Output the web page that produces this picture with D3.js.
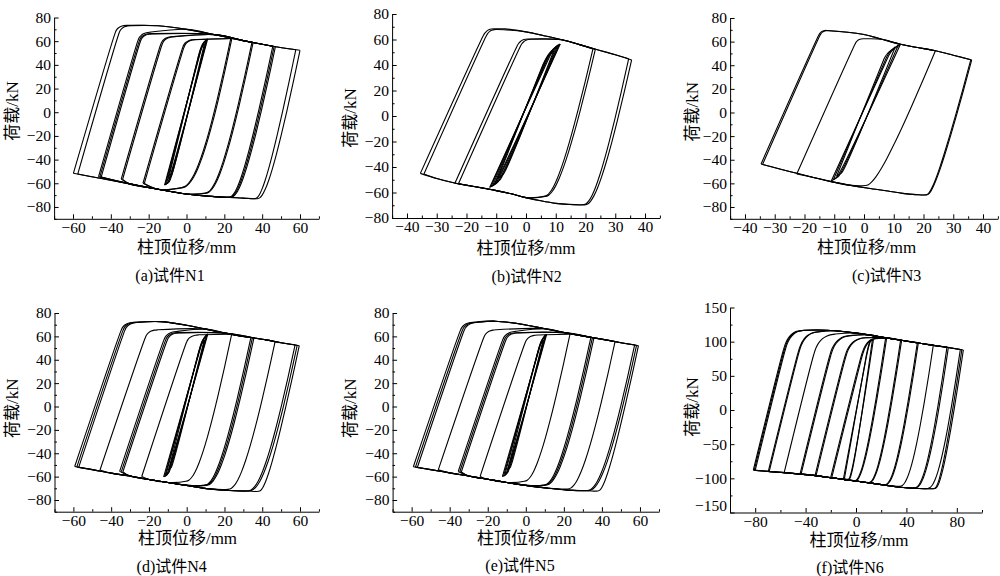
<!DOCTYPE html>
<html>
<head>
<meta charset="utf-8">
<script src="https://cdn.jsdelivr.net/npm/d3@7"></script>
<style>
  body { margin: 0; background: #fff; }
  svg { display: block; }
</style>
</head>
<body>
<svg id="chart" width="1000" height="576"></svg>
<script>
// ---- data (displacement mm, load kN) ----
// each loop row: [xNeg, yNeg, xKneeTop, yKneeTop, xPos, yPos, xKneeBot, yKneeBot]
// the bottom knee is where the unloading branch would hit the lower plateau
const n1EnvTop = [[-36,73.5],[-28,74],[-15,73],[0,70],[15,65.5],[30,60.5],[45,56],[60,52.3]];
const n1EnvBot = [[-59.8,-51.6],[-45,-56],[-30,-60.5],[-15,-65],[0,-69],[15,-71.3],[30,-72.5],[43,-73]];
const n1Loops = [
  [-59.8,-51.6,-36.5,73.5,60,52.3,43.6,-73.5],
  [-57.5,-52.2,-34.5,73.2,57.8,52.8,41.4,-73.3],
  [-46.5,-54.5,-24.5,67,47,55.3,30.2,-72.5],
  [-45.8,-54.6,-23.8,66.5,46.3,55.5,29.5,-72.3],
  [-45.1,-54.8,-23.2,66.2,45.6,55.7,28.8,-72],
  [-34.5,-56.5,-12.5,63.5,35.2,58.8,18.5,-68],
  [-33.8,-56.8,-11.8,63.3,34.6,59,17.9,-67.8],
  [-23,-60,-0.8,61.2,24,62.3,7.6,-63],
  [-22.3,-60.2,-0.2,61,23.4,62.3,7,-62.8],
  [-11.6,-61.5,8.5,57.5,11.2,62,-8.8,-58],
  [-11.2,-61.2,8.2,57,10.8,61.8,-8.3,-57.5],
  [-10.6,-60.5,7.8,56.5,10.4,61,-7.8,-57],
  [-9.5,-56,7,52,9.5,58,-7,-52.5]
];

const n2EnvTop = [[-13,68.5],[-7,68.3],[0,66],[6,63],[12,59.8],[18,56],[24,52],[30,48],[35.5,44]];
const n2EnvBot = [[-35.5,-45],[-30,-49],[-24,-52.5],[-17,-55.5],[-10,-58.5],[-5,-61],[0,-64],[5,-66.5],[10,-68.5],[14,-69.3],[21,-70]];
const n2Loops = [
  [-35.5,-45,-13.3,68.5,35.5,44,24.5,-70],
  [-34.3,-45.5,-12.3,68.3,34.5,44.8,23.7,-69.6],
  [-23.9,-52.8,-1.9,60.5,23.3,52.2,11.7,-62.5],
  [-22.7,-53.2,-0.8,60.3,22.5,52.6,11,-62.3],
  [-12.2,-56,8.8,51,11.5,56.5,-9.5,-51.5],
  [-11.8,-55.5,8.3,50.5,11.2,56.2,-9,-51],
  [-11.3,-55,7.8,49.5,10.8,55.8,-8.3,-50],
  [-10.5,-53,7.2,48,10.3,55,-7.5,-48],
  [-9.5,-49,6.5,45,9.3,51,-6.5,-44]
];

const n3EnvTop = [[-14,70],[-9,70],[0,66],[6,62],[12.7,57.5],[18,55],[24,52.3],[30,48.5],[36.2,44.5]];
const n3EnvBot = [[-34.6,-43.6],[-28,-48],[-22.6,-51.5],[-17,-55],[-11,-58.5],[-5,-61.5],[1.5,-64.2],[8,-66.5],[13,-68.5],[17.5,-69.5]];
const n3Loops = [
  [-34.6,-43.6,-14.4,70,36.2,44.5,24,-70],
  [-34.1,-44,-14,69.8,35.9,44.7,23.7,-69.8],
  [-22.6,-52,-2.2,62.5,24,52.3,5,-62],
  [-11,-58,9,52,12.2,57.5,-8,-53],
  [-10.3,-57,8.3,51,11.5,57,-7.3,-52],
  [-9.2,-54,7.3,49,10.5,55.5,-6.3,-49]
];

const n4EnvTop = [[-33,71.5],[-25,72.3],[-14,72.6],[0,69.5],[10,66.2],[21,62.6],[32,59.5],[42,57],[50,54.5],[59.6,52]];
const n4EnvBot = [[-59.3,-51.3],[-50,-54],[-40,-57],[-30,-59.5],[-20,-62.5],[-10,-65],[0,-67.5],[12,-70.5],[22,-71.8],[32,-72.3],[42,-72.5]];
const n4Loops = [
  [-59.3,-51.3,-33.3,71.8,59.6,52,43.1,-72.8],
  [-58.2,-51.8,-32.3,71.8,58.5,52.4,42,-72.6],
  [-57.2,-52.1,-31.4,71.6,57.4,52.8,40.9,-72.4],
  [-45.9,-54.3,-20.5,65.5,46.8,55.5,30,-71.2],
  [-35.5,-55.5,-10.7,63.5,35.6,58.8,18.9,-67.5],
  [-34.6,-55.7,-9.8,63.3,34.8,59,18.1,-67.3],
  [-33.8,-55.9,-9,63,34,59.2,17.3,-67.1],
  [-23.8,-59.9,1.2,61.2,23.8,61.8,7.4,-63.2],
  [-12.2,-60.2,8.5,57,11.2,62.2,-9.5,-57],
  [-11.6,-59.8,8.2,56.5,10.8,61.8,-9,-56.5],
  [-11,-58.5,7.8,55.5,10.3,61,-8.4,-55.5],
  [-9.5,-54,7,51,9.3,57,-7.2,-51]
];

const n5EnvTop = [[-33,71.2],[-25,72.5],[-16,73],[0,69.8],[10,66.5],[21,63],[32,59.8],[42,57],[50,54.6],[59.2,52]];
const n5EnvBot = [[-59.1,-51.5],[-50,-54],[-40,-56.8],[-30,-59.5],[-20,-62.2],[-10,-65],[0,-67.5],[12,-70],[22,-71.5],[32,-72],[42,-72.3]];
const n5Loops = [
  [-59.1,-51.5,-33,71.6,59.2,52,42.7,-72.6],
  [-58,-51.9,-32,71.5,58.2,52.4,41.7,-72.4],
  [-57,-52.2,-31.1,71.3,57.2,52.8,40.7,-72.2],
  [-46,-54.2,-20.7,65.5,46.9,55.5,30.1,-71],
  [-35.5,-55.6,-10.8,63.5,35.8,58.7,19.1,-67.2],
  [-34.7,-55.8,-10,63.2,35,58.9,18.3,-67],
  [-33.9,-56,-9.2,63,34.2,59.1,17.5,-66.8],
  [-24,-59.8,1,61,23.2,61.8,6.8,-63.2],
  [-12.3,-60,8.4,57,11,62,-9.5,-57],
  [-11.7,-59.6,8.1,56.5,10.6,61.6,-9,-56.5],
  [-11,-58.3,7.7,55.3,10.1,60.8,-8.4,-55.3],
  [-9.5,-54,7,51,9.1,56.8,-7.2,-51]
];

const n6EnvTop = [[-54,116],[-45,117],[-30,117],[-16.7,116],[0,112.5],[10,110],[24,105.5],[36,102],[48,98.5],[60,95],[73,91.5],[85.2,87.8]];
const n6EnvBot = [[-81.5,-88],[-70,-89.8],[-57,-91.7],[-44,-93.8],[-32,-96],[-20,-99],[-10,-101.5],[0,-104],[12,-107],[23,-110],[35,-113],[45,-114.5],[55,-115],[68.5,-115]];
const n6Loops = [
  [-81.5,-88,-53.8,116,85.2,87.8,68.8,-115],
  [-80.8,-88.2,-53.1,115.8,84,88.2,67.7,-115],
  [-80,-88.4,-52.4,115.6,82.8,88.6,66.6,-115],
  [-69.6,-90,-42,113,73.3,91.6,57,-114.5],
  [-68.9,-90.2,-41.4,112.8,72.2,92,56,-114.3],
  [-57,-91.7,-29.6,110,61.4,95.3,44.5,-113],
  [-44.4,-93.8,-17,108,49.5,98.5,32.5,-111],
  [-43.6,-94,-16.2,107.8,48.7,98.8,31.7,-110.8],
  [-32.5,-96,-5,106,36.2,102,19,-108],
  [-31.7,-96.2,-4.3,105.8,35.4,102.2,18.3,-107.8],
  [-20.1,-99,7.5,104,24.3,105,7,-105],
  [-19.3,-99.2,8.2,103.8,23.5,105.2,6.3,-104.8],
  [-10,-101,10.5,100,13.8,103,-3,-102.5],
  [-9.2,-100.5,10,99,13,102.5,-2.5,-102]
];

// tick labels
const xLab60 = [-60,-40,-20,0,20,40,60];
const xLab40 = [-40,-30,-20,-10,0,10,20,30,40];
const xLab80 = [-80,-40,0,40,80];
const yLab80 = [-80,-60,-40,-20,0,20,40,60,80];
const yLab150 = [-150,-100,-50,0,50,100,150];

const xTitle = '柱顶位移/mm';
const yTitle = '荷载/kN';
const captions = ['(a)试件N1','(b)试件N2','(c)试件N3','(d)试件N4','(e)试件N5','(f)试件N6'];

// ---- layout ----
const FONT = '"Liberation Serif","Times New Roman","Noto Sans CJK SC",serif';
// corner rounding in px: [bottom knee along plateau, top knee along line, top knee along plateau]
const arms = {a:[25,8,10], b:[30,8,8], c:[20,6,6], f:[34,20,22]};

const panels = [
  {top:n1EnvTop, bot:n1EnvBot, loops:n1Loops, xd:[-70,70], yd:[-90,80], xr:[54.1,318.9], yr:[218.8,17.5],
   xLab:xLab60, xStep:10, yLab:yLab80, yStep:10, arms:arms.a, gap:10, gapEnd:3, lift:0,
   yt:[12,111], xt:[186.7,246.7], cap:[170,275]},
  {top:n2EnvTop, bot:n2EnvBot, loops:n2Loops, xd:[-45,45], yd:[-80,80], xr:[392.1,659.9], yr:[218,14],
   xLab:xLab40, xStep:5, yLab:yLab80, yStep:10, arms:arms.b, gap:6, gapEnd:2, lift:0,
   yt:[350,118], xt:[526,248.3], cap:[526.7,276.7]},
  {top:n3EnvTop, bot:n3EnvBot, loops:n3Loops, xd:[-45,45], yd:[-90,80], xr:[730.1,997.9], yr:[218.8,18],
   xLab:xLab40, xStep:5, yLab:yLab80, yStep:10, arms:arms.c, gap:6, gapEnd:2, lift:0,
   yt:[692.5,111.7], xt:[866.7,246.7], cap:[886.7,275]},
  {top:n4EnvTop, bot:n4EnvBot, loops:n4Loops, xd:[-70,70], yd:[-90,80], xr:[54.5,318.9], yr:[511.7,313],
   xLab:xLab60, xStep:10, yLab:yLab80, yStep:10, arms:arms.a, gap:10, gapEnd:3, lift:0,
   yt:[11.7,408.3], xt:[187.5,538.3], cap:[171.7,566]},
  {top:n5EnvTop, bot:n5EnvBot, loops:n5Loops, xd:[-70,70], yd:[-90,80], xr:[392.6,659], yr:[511.7,313],
   xLab:xLab60, xStep:10, yLab:yLab80, yStep:10, arms:arms.a, gap:10, gapEnd:3, lift:0,
   yt:[350,408.3], xt:[526.7,538.3], cap:[520,565]},
  {top:n6EnvTop, bot:n6EnvBot, loops:n6Loops, xd:[-100,100], yd:[-150,150], xr:[730,982], yr:[512.5,307.5],
   xLab:xLab80, xStep:20, yLab:yLab150, yStep:25, arms:arms.f, gap:12, gapEnd:4, lift:7,
   yt:[691.7,407], xt:[859,540], cap:[850,567.3]}
];

const svg = d3.select('#chart');
const line = d3.line().curve(d3.curveCatmullRom.alpha(0.5));
const K = 0.09;            // how steeply a loop may climb back onto the envelope
const K1 = 0.8, K2 = 0.65; // unloading branch bends late, like the test curves

function toward(c, t, r) {
  const dx = t[0] - c[0], dy = t[1] - c[1];
  const d = Math.hypot(dx, dy) || 1;
  const rr = Math.min(r, 0.45 * d);
  return [c[0] + dx * rr / d, c[1] + dy * rr / d];
}
const lerp = (a, b, t) => [a[0] + (b[0] - a[0]) * t, a[1] + (b[1] - a[1]) * t];

// envelope points a branch runs along between its knee and the far peak
function plateau(C, E, env, isTop, p, px) {
  const cand = isTop
    ? env.filter(d => d[0] > C[0] + p.gap && d[0] < E[0] - p.gapEnd)
    : env.filter(d => d[0] < C[0] - p.gap && d[0] > E[0] + p.gapEnd).reverse();
  let cur = px(C);
  const out = [];
  cand.forEach(d => {
    const q = px(d);
    const run = Math.abs(q[0] - cur[0]);
    const rise = isTop ? cur[1] - q[1] : q[1] - cur[1];
    if (rise <= K * run) { out.push(q); cur = q; }
  });
  return out;
}

// reloading branch: straight up from the negative peak, rounded knee, along the top
function upper(N, B, P, p, px) {
  const [, bLine, bPlat] = p.arms;
  const plat = plateau(B, P, p.top, true, p, px);
  const s = px(N), c = px(B), e = px(P);
  const a1 = toward(c, s, bLine), a2 = toward(c, plat.length ? plat[0] : e, bPlat);
  const pts = [s, a1];
  [0.2, 0.4, 0.6, 0.8].forEach(t => {
    const u = 1 - t;
    pts.push([u*u*a1[0] + 2*u*t*c[0] + t*t*a2[0], u*u*a1[1] + 2*u*t*c[1] + t*t*a2[1]]);
  });
  return pts.concat([a2], plat, [e]);
}

// unloading branch: softening curve from the positive peak into the lower plateau
function lower(P, A, N, p, px) {
  const plat = plateau(A, N, p.bot, false, p, px);
  const s = px(P), c = px(A), e = px(N);
  const a2 = toward(c, plat.length ? plat[0] : e, p.arms[0]);
  const c1 = lerp(s, c, K1), c2 = lerp(a2, c, K2);
  const pts = d3.range(0, 1.0001, 0.1).map(t => {
    const u = 1 - t;
    return [u*u*u*s[0] + 3*u*u*t*c1[0] + 3*u*t*t*c2[0] + t*t*t*a2[0],
            u*u*u*s[1] + 3*u*u*t*c1[1] + 3*u*t*t*c2[1] + t*t*t*a2[1]];
  });
  return pts.concat(plat, [e]);
}

function drawPanel(p, i) {
  const x = d3.scaleLinear().domain(p.xd).range(p.xr);
  const y = d3.scaleLinear().domain(p.yd).range(p.yr);
  const px = d => [x(d[0]), y(d[1])];
  const g = svg.append('g');
  const yBase = y(p.yd[0]), xBase = x(p.xd[0]);

  // hysteresis curves
  const curves = g.append('g').attr('fill', 'none').attr('stroke', '#000')
    .attr('stroke-width', 1.1).attr('stroke-linejoin', 'round');
  p.loops.forEach(l => {
    const N = [l[0], l[1]], B = [l[2], l[3]], P = [l[4], l[5]], A = [l[6], l[7]];
    curves.append('path').attr('d', line(upper(N, B, P, p, px)));
    curves.append('path').attr('d', line(lower(P, A, N, p, px)));
  });

  // minor ticks
  const xMinor = d3.range(p.xd[0], p.xd[1] + 1e-6, p.xStep).filter(v => !p.xLab.includes(v));
  const yMinor = d3.range(p.yd[0], p.yd[1] + 1e-6, p.yStep).filter(v => !p.yLab.includes(v));
  g.append('g').attr('transform', `translate(0,${yBase})`)
    .call(d3.axisBottom(x).tickValues(xMinor).tickSize(-2.5).tickSizeOuter(0).tickFormat(''))
    .call(s => s.select('.domain').remove());
  g.append('g').attr('transform', `translate(${xBase},0)`)
    .call(d3.axisLeft(y).tickValues(yMinor).tickSize(-2.5).tickSizeOuter(0).tickFormat(''))
    .call(s => s.select('.domain').remove());

  // major ticks + labels
  const xa = g.append('g').attr('transform', `translate(0,${yBase})`)
    .call(d3.axisBottom(x).tickValues(p.xLab).tickSize(-4.5).tickSizeOuter(0).tickPadding(3));
  const ya = g.append('g').attr('transform', `translate(${xBase},0)`)
    .call(d3.axisLeft(y).tickValues(p.yLab).tickSize(-4.5).tickSizeOuter(0).tickPadding(3));
  [xa, ya].forEach(a => {
    a.attr('font-family', FONT).attr('font-size', 15.5);
    a.selectAll('path,line').attr('stroke', '#000').attr('stroke-width', 1);
    a.selectAll('text').attr('fill', '#000');
  });
  // lowest y label sits a little above the x axis when it would collide
  ya.selectAll('.tick').filter(d => d === p.yd[0]).select('text').attr('y', -p.lift);

  g.append('text').attr('transform', `translate(${p.yt[0]},${p.yt[1]}) rotate(-90)`)
    .attr('text-anchor', 'middle').attr('dy', '0.35em')
    .attr('font-family', FONT).attr('font-size', 17).text(yTitle);
  g.append('text').attr('x', p.xt[0]).attr('y', p.xt[1])
    .attr('text-anchor', 'middle').attr('dy', '0.35em')
    .attr('font-family', FONT).attr('font-size', 17).text(xTitle);
  g.append('text').attr('x', p.cap[0]).attr('y', p.cap[1])
    .attr('text-anchor', 'middle').attr('dy', '0.35em')
    .attr('font-family', FONT).attr('font-size', 16).text(captions[i]);
}

panels.forEach(drawPanel);
</script>
</body>
</html>
